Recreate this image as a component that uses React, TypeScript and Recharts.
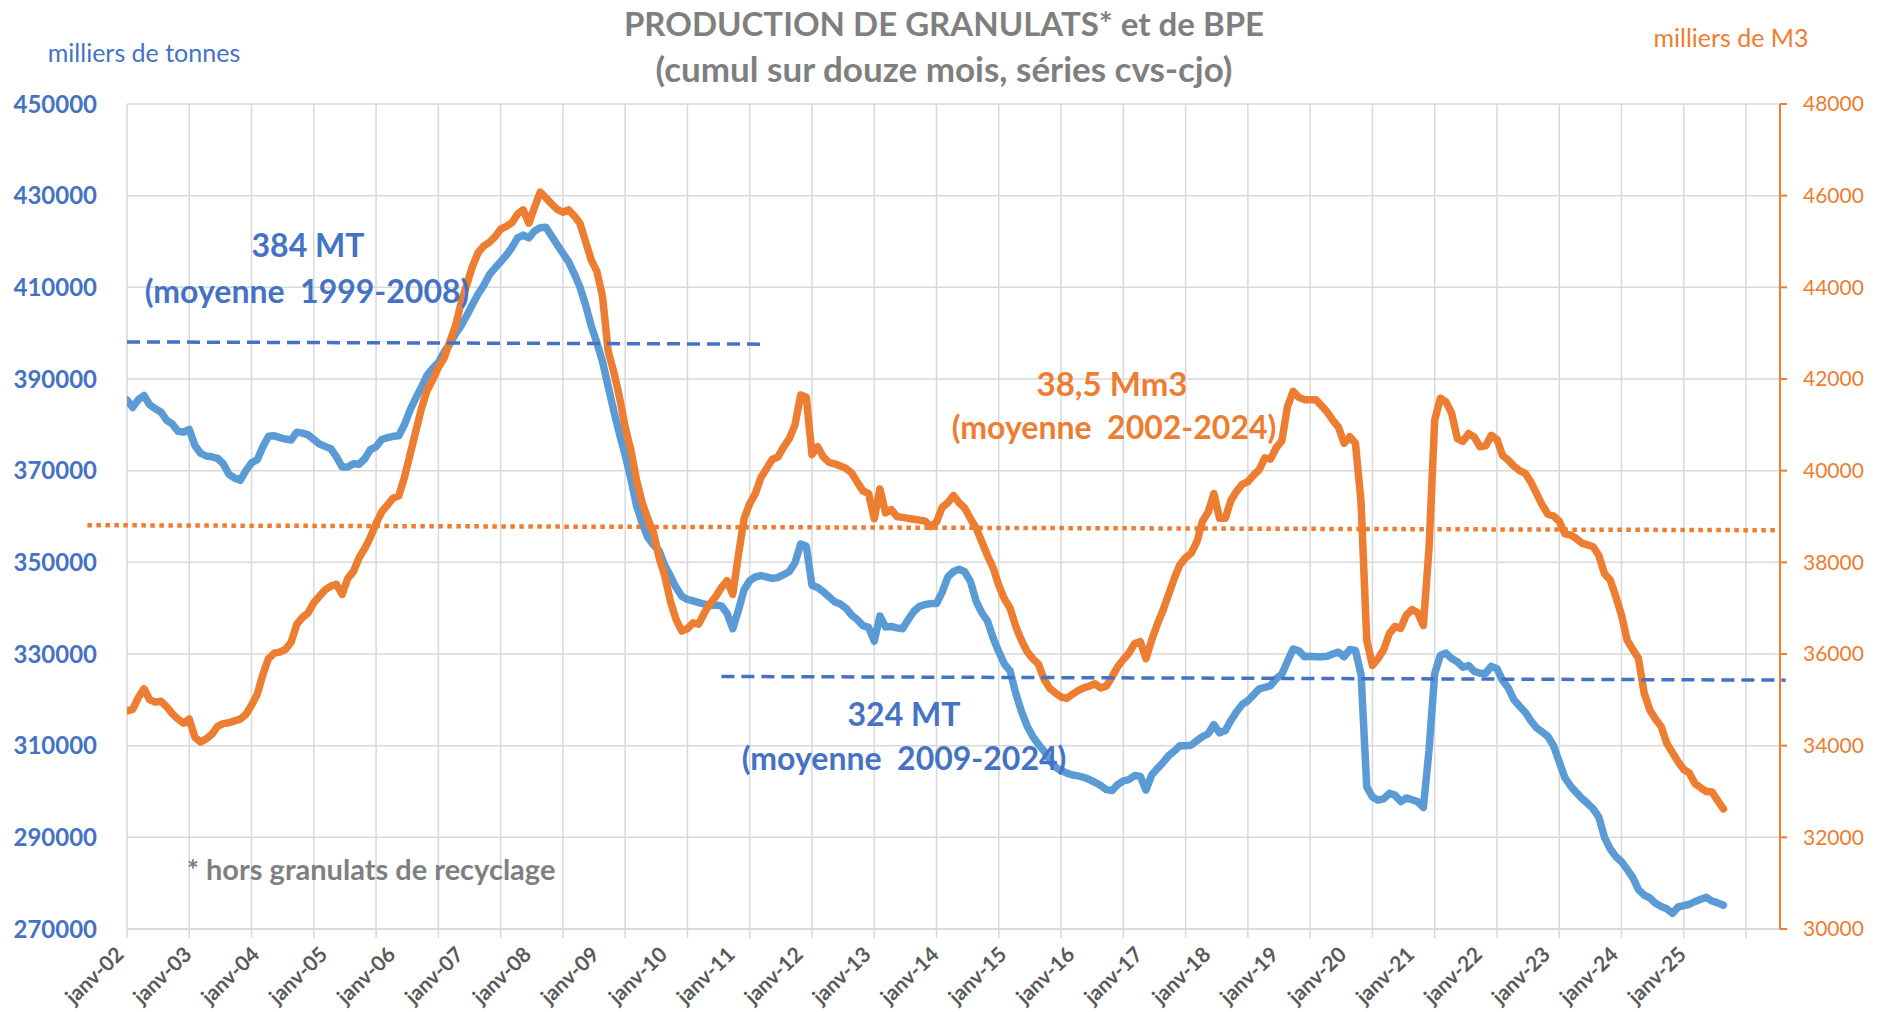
import { ComposedChart, Line, XAxis, YAxis, CartesianGrid, ReferenceLine } from 'recharts';

const W = 1878;
const H = 1012;

const BLUE_TEXT = '#4472C4';
const BLUE_LINE = '#5B9BD5';
const ORANGE = '#ED7D31';
const GREY = '#7F7F7F';
const GRID = '#D9D9D9';

// x-axis labels, one per january
const tickLabels = [
  'janv-02', 'janv-03', 'janv-04', 'janv-05', 'janv-06', 'janv-07', 'janv-08', 'janv-09',
  'janv-10', 'janv-11', 'janv-12', 'janv-13', 'janv-14', 'janv-15', 'janv-16', 'janv-17',
  'janv-18', 'janv-19', 'janv-20', 'janv-21', 'janv-22', 'janv-23', 'janv-24', 'janv-25',
];

// granulats, cumul 12 mois, milliers de tonnes (janv-02 .. juil-25)
const granulats = [
  385400, 383800, 385500, 386400, 384400, 383500, 382800, 381000, 380200, 378600, 378400, 379000,
  375500, 373800, 373200, 373000, 372700, 371500, 369200, 368400, 367900, 370000, 371700, 372400,
  375200, 377500, 377600, 377200, 376900, 376700, 378400, 378200, 377800, 376800, 375800, 375300,
  374800, 373000, 370800, 370800, 371500, 371400, 372600, 374600, 375200, 376800, 377200, 377500,
  377600, 380000, 383200, 385800, 388200, 390800, 392300, 393600, 395800, 397600, 399800, 401600,
  403800, 406200, 408500, 410400, 412700, 414200, 415600, 417000, 418700, 420800, 421400, 420800,
  422300, 423000, 423100, 421200, 419300, 417400, 415600, 413000, 410100, 406200, 401600, 397900,
  393800, 388400, 383000, 378000, 373400, 368300, 362400, 358600, 355400, 353800, 352500, 349300,
  347000, 344500, 342600, 341900, 341600, 341200, 340900, 340600, 340700, 340500, 338900, 335500,
  339500, 344000, 346000, 346800, 347100, 346800, 346500, 346700, 347300, 348000, 349900, 354000,
  353500, 345000, 344500, 343600, 342500, 341400, 340900, 340000, 338500, 337500, 336200, 335800,
  332800, 338300, 335900, 336000, 335700, 335500, 337500, 339300, 340400, 340800, 341000, 341000,
  343500, 346800, 348000, 348500, 347900, 345800, 341500, 339000, 337200, 333500, 330500, 327800,
  326300, 321400, 317500, 314300, 312000, 310300, 308800, 306800, 305300, 304600, 304000, 303600,
  303400, 303100, 302600, 302000, 301300, 300400, 300200, 301500, 302300, 302600, 303500, 303300,
  300300, 303600, 305000, 306300, 307800, 308800, 310000, 310000, 310100, 311100, 312000, 312600,
  314600, 312800, 313300, 315500, 317400, 319000, 319800, 321100, 322400, 322700, 323100, 324600,
  325600, 328400, 331100, 330700, 329400, 329500, 329400, 329400, 329500, 330000, 330400, 329400,
  331000, 330800, 325500, 301000, 298800, 298100, 298400, 299600, 299200, 297800, 298600, 298200,
  297800, 296500, 309000, 325700, 329700, 330200, 329000, 328300, 327100, 327500, 326200, 325800,
  325800, 327300, 326800, 324200, 322600, 320000, 318600, 317300, 315400, 313900, 313000, 312000,
  310000, 306500, 303000, 301200, 299800, 298500, 297400, 296200, 294400, 290000, 287500, 285800,
  284700, 283000, 281200, 278600, 277400, 276800, 275600, 274900, 274400, 273400, 274800, 275100,
  275400, 276000, 276500, 276900, 276100, 275700, 275200,
];

// BPE, cumul 12 mois, milliers de m3 (janv-02 .. juil-25)
const bpe = [
  34760, 34790, 35050, 35240, 35000, 34950, 34970, 34850, 34700, 34580, 34490, 34580,
  34180, 34080, 34150, 34250, 34420, 34480, 34500, 34540, 34580, 34680, 34880, 35120,
  35550, 35900, 36020, 36040, 36100, 36260, 36650, 36800, 36900, 37120, 37260, 37400,
  37480, 37520, 37300, 37650, 37800, 38100, 38300, 38550, 38850, 39100, 39250, 39400,
  39450, 39850, 40350, 40850, 41350, 41750, 41980, 42250, 42450, 42800, 43150, 43650,
  44050, 44450, 44750, 44900, 44980, 45100, 45270, 45330, 45410, 45600, 45690, 45400,
  45750, 46080, 45950, 45820, 45700, 45640, 45690, 45560, 45400, 45000, 44600, 44350,
  43800, 42600, 42150, 41600, 40950, 40450, 39800, 39300, 38950, 38650, 38100, 37700,
  37150, 36750, 36500, 36550, 36680, 36650, 36900, 37100, 37250, 37450, 37600, 37300,
  38150, 38950, 39280, 39500, 39850, 40050, 40250, 40300, 40520, 40700, 41000, 41650,
  41600, 40350, 40520, 40300, 40180, 40150, 40100, 40050, 39950, 39750, 39560, 39500,
  38950, 39600, 39080, 39150, 39000, 38980, 38960, 38940, 38920, 38900, 38780, 38880,
  39200, 39300, 39460, 39300, 39180, 38950, 38750, 38450, 38150, 37880, 37500, 37200,
  37000, 36600, 36300, 36050, 35900, 35780, 35450, 35250, 35150, 35060, 35030, 35120,
  35200, 35260, 35300, 35350, 35260, 35300, 35500, 35720, 35880, 36020, 36230, 36270,
  35900, 36300, 36650, 36950, 37300, 37650, 37950, 38100, 38200, 38450, 38900, 39100,
  39500, 38960, 38960, 39350, 39550, 39700, 39760, 39900, 40020, 40280, 40250, 40500,
  40650, 41400, 41730, 41600, 41550, 41550, 41550, 41420, 41280, 41100, 40950, 40600,
  40740, 40600, 39300, 36300, 35750, 35900, 36100, 36450, 36600, 36560, 36850, 36970,
  36900, 36620, 38300, 41100, 41580, 41500, 41250, 40700, 40640, 40810, 40730, 40520,
  40540, 40770, 40680, 40330, 40230, 40100, 40000, 39940, 39750, 39500, 39250, 39050,
  39010, 38900, 38620, 38600, 38520, 38420, 38380, 38340, 38150, 37750, 37620, 37250,
  36850, 36300, 36100, 35900, 35150, 34780, 34580, 34420, 34050, 33850, 33650, 33480,
  33400, 33170, 33080, 33000, 32990, 32800, 32620,
];

const leftTicks = [270000, 290000, 310000, 330000, 350000, 370000, 390000, 410000, 430000, 450000];
const rightTicks = [30000, 32000, 34000, 36000, 38000, 40000, 42000, 44000, 46000, 48000];

// the excel axis runs a few empty months past the data, grid every 11 months
const LAST_SLOT = 292;
const gridTicks = Array.from({ length: 27 }, (_, k) => k * 11);
const labelTicks = tickLabels.map((_, k) => k * 12);
const axisTicks = Array.from(new Set([...gridTicks, ...labelTicks])).sort((a, b) => a - b);

// average lines as drawn on the original (month index, value)
const moyGran1 = [{ x: 0, y: 398100 }, { x: 112, y: 397600 }];
const moyGran2 = [{ x: 105, y: 325100 }, { x: 293, y: 324300 }];
const moyBpe = [{ x: -7, y: 38810 }, { x: LAST_SLOT, y: 38700 }];

const data = granulats.map((g, i) => ({ i, g, b: bpe[i] }));

const XTick = ({ x, y, payload }: any) => {
  const v = payload.value;
  const label = v % 12 === 0 ? tickLabels[v / 12] : null;
  const ax = x - 2;
  const ay = y + 27;
  return (
    <g>
      {v % 11 === 0 && <line x1={x} x2={x} y1={y} y2={y + 9} stroke={GRID} strokeWidth={1.5} />}
      {label && (
        <text
          x={ax}
          y={ay}
          textAnchor="end"
          transform={`rotate(-44 ${ax} ${ay})`}
          fill="#595959"
          fontSize={21}
          fontWeight={700}
          fontFamily="Lato, sans-serif"
        >
          {label}
        </text>
      )}
    </g>
  );
};

const Txt = ({ x, y, color, size, bold = true, children }: any) => (
  <div
    style={{
      position: 'absolute',
      left: x,
      top: y,
      transform: 'translate(-50%, -50%)',
      color,
      fontSize: size,
      fontWeight: bold ? 700 : 400,
      whiteSpace: 'pre',
      lineHeight: 1,
    }}
  >
    {children}
  </div>
);

export default function App() {
  return (
    <div
      style={{
        position: 'absolute',
        left: 0,
        top: 0,
        width: W,
        height: H,
        background: '#fff',
        fontFamily: 'Lato, sans-serif',
        overflow: 'hidden',
      }}
    >
      <ComposedChart
        width={W}
        height={H}
        data={data}
        margin={{ top: 104, right: 8, bottom: 13, left: 27 }}
      >
        <CartesianGrid yAxisId="left" stroke={GRID} strokeWidth={1.5} verticalValues={gridTicks} />
        <XAxis
          dataKey="i"
          type="number"
          domain={[0, LAST_SLOT]}
          ticks={axisTicks}
          interval={0}
          allowDataOverflow
          tick={<XTick />}
          tickLine={false}
          tickSize={0}
          tickMargin={0}
          height={70}
          axisLine={{ stroke: GRID, strokeWidth: 1.5 }}
        />
        <YAxis
          yAxisId="left"
          domain={[270000, 450000]}
          ticks={leftTicks}
          interval={0}
          width={100}
          axisLine={false}
          tickLine={false}
          tickSize={0}
          tickMargin={30}
          tick={{ fill: BLUE_TEXT, fontSize: 24, fontWeight: 700, fontFamily: 'Lato, sans-serif' }}
        />
        <YAxis
          yAxisId="right"
          orientation="right"
          domain={[30000, 48000]}
          ticks={rightTicks}
          interval={0}
          width={90}
          axisLine={{ stroke: ORANGE, strokeWidth: 2 }}
          tickLine={{ stroke: ORANGE, strokeWidth: 2 }}
          tickSize={7}
          tickMargin={16}
          tick={{ fill: ORANGE, fontSize: 21, fontFamily: 'Lato, sans-serif' }}
        />
        <Line
          yAxisId="left"
          dataKey="g"
          type="linear"
          stroke={BLUE_LINE}
          strokeWidth={7.5}
          strokeLinejoin="round"
          strokeLinecap="round"
          dot={false}
          isAnimationActive={false}
        />
        <Line
          yAxisId="right"
          dataKey="b"
          type="linear"
          stroke={ORANGE}
          strokeWidth={7.5}
          strokeLinejoin="round"
          strokeLinecap="round"
          dot={false}
          isAnimationActive={false}
        />
        <ReferenceLine
          yAxisId="left"
          segment={moyGran1}
          stroke={BLUE_TEXT}
          strokeWidth={3.5}
          strokeDasharray="13 7"
          ifOverflow="visible"
        />
        <ReferenceLine
          yAxisId="left"
          segment={moyGran2}
          stroke={BLUE_TEXT}
          strokeWidth={3.5}
          strokeDasharray="13 7"
          ifOverflow="visible"
        />
        <ReferenceLine
          yAxisId="right"
          segment={moyBpe}
          stroke={ORANGE}
          strokeWidth={4.5}
          strokeDasharray="4.5 4.5"
          ifOverflow="visible"
        />
      </ComposedChart>

      <Txt x={944} y={23} color={GREY} size={33}>PRODUCTION DE GRANULATS* et de BPE</Txt>
      <Txt x={944} y={68} color={GREY} size={35}>(cumul sur douze mois, séries cvs-cjo)</Txt>
      <Txt x={144} y={52} color={BLUE_TEXT} size={25} bold={false}>milliers de tonnes</Txt>
      <Txt x={1731} y={37} color={ORANGE} size={25} bold={false}>milliers de M3</Txt>

      <Txt x={308} y={245} color={BLUE_TEXT} size={32}>384 MT</Txt>
      <Txt x={307} y={291} color={BLUE_TEXT} size={32}>(moyenne  1999-2008)</Txt>
      <Txt x={1112} y={383} color={ORANGE} size={33}>38,5 Mm3</Txt>
      <Txt x={1114} y={427} color={ORANGE} size={32}>(moyenne  2002-2024)</Txt>
      <Txt x={904} y={714} color={BLUE_TEXT} size={32}>324 MT</Txt>
      <Txt x={904} y={758} color={BLUE_TEXT} size={32}>(moyenne  2009-2024)</Txt>
      <Txt x={371} y={868} color={GREY} size={29}>* hors granulats de recyclage</Txt>
    </div>
  );
}
